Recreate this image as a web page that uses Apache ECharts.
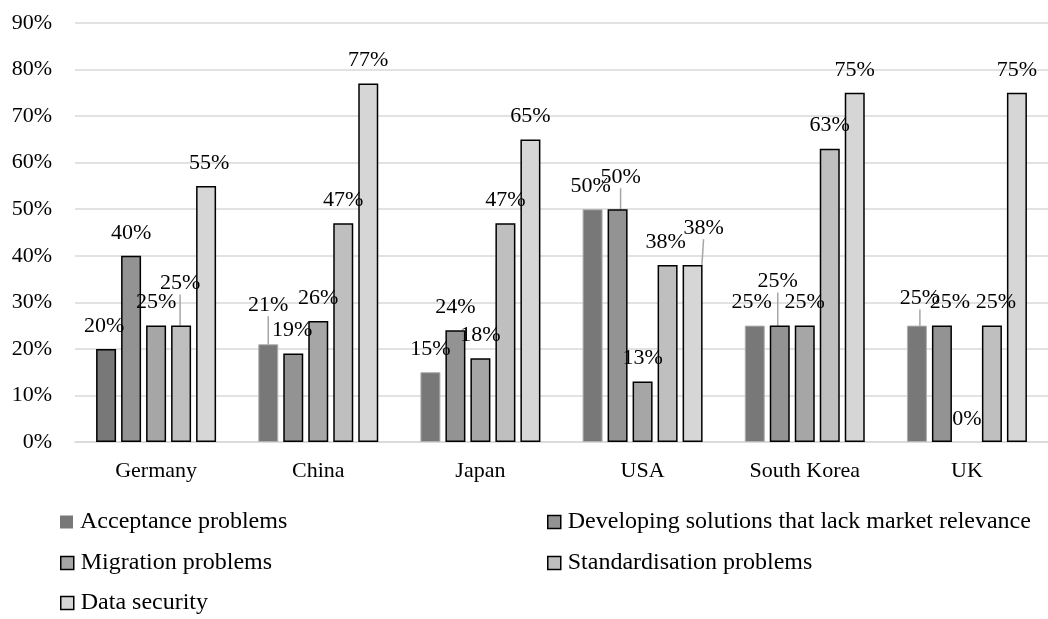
<!DOCTYPE html>
<html>
<head>
<meta charset="utf-8">
<script src="https://cdn.jsdelivr.net/npm/echarts@6/dist/echarts.min.js"></script>
<style>
  html, body { margin: 0; padding: 0; background: #fff; }
  #chart { width: 1048px; height: 619px; }
</style>
</head>
<body>
<div id="chart"></div>
<script>
const categories = ['Germany', 'China', 'Japan', 'USA', 'South Korea', 'UK']
const seriesNames = [
  'Acceptance problems',
  'Developing solutions that lack market relevance',
  'Migration problems',
  'Standardisation problems',
  'Data security'
]
const acceptance = [20, 21, 15, 50, 25, 25]
const developing = [40, 19, 24, 50, 25, 25]
const migration = [25, 26, 18, 13, 25, 0]
const standardisation = [25, 47, 47, 38, 63, 25]
const dataSecurity = [55, 77, 65, 38, 75, 75]
const yTicks = [0, 90, 10]

// label nudges [dx, dy, leader line] per series / category
const labelMoves = [
  [[-2, 0], [0, -16, 1], [0, 0], [-2, 0], [-3, 0], [3, -4, 1]],
  [[0, 0], [-1, 0], [0, 0], [3, -9, 1], [-2, -21, 1], [8, 0]],
  [[0, 0], [0, 0], [0, 0], [0, 0], [0, 0], [0, 0]],
  [[-1, -19, 1], [0, 0], [0, 0], [-2, 0], [0, 0], [4, 0]],
  [[3, 0], [0, 0], [0, 0], [11, -14, 1], [0, 0], [0, 0]]
]
// legend slots: [left, top] of each entry
const legendSlots = [[60, 510], [547, 510], [60, 551], [547, 551], [60, 591]]

const colors = ['#787878', '#939393', '#a6a6a6', '#bfbfbf', '#d6d6d6']
const values = [acceptance, developing, migration, standardisation, dataSecurity]
const font = 'Liberation Serif'

const chart = echarts.init(document.getElementById('chart'))

const series = values.map((vals, si) => {
  return {
    name: seriesNames[si],
    type: 'bar',
    barWidth: 20,
    barGap: '25%',
    itemStyle: {
      color: colors[si],
      borderColor: si === 0 ? '#b0b0b0' : '#000',
      borderWidth: si === 0 ? 1 : 1.5
    },
    label: {
      show: true,
      position: 'top',
      distance: 13,
      formatter: '{c}%',
      fontFamily: font,
      fontSize: 22,
      lineHeight: 20,
      color: '#000'
    },
    labelLine: {
      show: false,
      lineStyle: { color: '#a6a6a6', width: 1.5 }
    },
    labelLayout: params => {
      const m = labelMoves[params.seriesIndex][params.dataIndex]
      return { dx: m[0], dy: m[1] }
    },
    data: vals.map((v, ci) => {
      const item = { value: v }
      if (labelMoves[si][ci][2]) item.labelLine = { show: true }
      // the Germany bar of the first series keeps a black outline
      if (si === 0 && ci === 0) item.itemStyle = { borderColor: '#000', borderWidth: 1.5 }
      if (v === 0) item.itemStyle = { borderWidth: 0 }
      return item
    })
  }
})

const legends = seriesNames.map((name, si) => ({
  left: legendSlots[si][0],
  top: legendSlots[si][1],
  padding: 0,
  icon: 'rect',
  itemWidth: 13,
  itemHeight: 13,
  selectedMode: false,
  textStyle: { fontFamily: font, fontSize: 24, lineHeight: 24, color: '#000', padding: [0, 0, 0, 2] },
  data: [{
    name,
    itemStyle: {
      color: colors[si],
      borderColor: si === 0 ? colors[si] : '#000',
      borderWidth: si === 0 ? 0 : 1.5
    }
  }]
}))

const option = {
  animation: false,
  backgroundColor: '#fff',
  grid: { left: 75, top: 23, width: 980, height: 419, containLabel: false },
  legend: legends,
  xAxis: {
    type: 'category',
    data: categories,
    axisLine: { lineStyle: { color: '#d9d9d9', width: 1.5 } },
    axisTick: { show: false },
    axisLabel: { fontFamily: font, fontSize: 22, color: '#000', margin: 18 }
  },
  yAxis: {
    type: 'value',
    min: yTicks[0],
    max: yTicks[1],
    interval: yTicks[2],
    axisLine: { show: false },
    axisTick: { show: false },
    splitLine: { lineStyle: { color: '#d9d9d9', width: 1.5 } },
    axisLabel: { fontFamily: font, fontSize: 22, color: '#000', margin: 23, formatter: '{value}%' }
  },
  series
}

chart.setOption(option)
</script>
</body>
</html>
